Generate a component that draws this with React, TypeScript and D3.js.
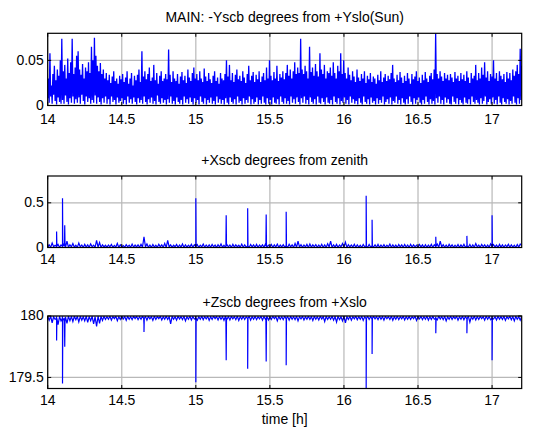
import React from "react";
import * as d3 from "d3";

const T_START = 14;
const T_END = 17.2;
const xTicks = [14, 14.5, 15, 15.5, 16, 16.5, 17];

// Panel 1: -Yscb from +Yslo(Sun), milli-degrees, evenly sampled 14 h .. 17.2 h
const sunAngleMdeg = [
  8,30,3,58,10,22,2,35,12,44,5,28,1,40,9,33,4,50,2,74,
  6,38,2,45,11,30,4,52,1,36,8,48,3,74,10,35,2,42,7,55,
  3,60,9,40,2,34,12,46,5,30,1,42,10,38,4,48,8,36,2,65,
  6,50,3,75,11,55,2,44,9,38,4,47,1,35,8,40,3,30,10,36,
  2,28,7,34,1,25,10,32,4,38,6,27,1,30,9,24,3,33,5,29,
  8,35,2,26,6,31,1,38,10,24,3,30,7,36,2,22,9,33,4,28,
  1,34,8,40,3,26,6,60,2,32,10,38,4,29,1,35,7,42,3,27,
  9,31,2,45,5,28,1,36,11,24,4,33,2,38,8,27,3,30,6,35,
  1,29,7,62,3,34,10,26,2,38,5,30,1,27,9,35,4,24,2,32,
  6,37,1,28,10,33,3,25,7,40,2,31,9,27,4,36,1,42,8,30,
  3,35,6,28,1,38,10,30,4,26,2,41,8,32,1,27,6,36,3,29,
  9,25,2,33,5,38,1,27,10,31,3,24,7,36,2,30,6,28,1,35,
  8,50,3,32,1,45,9,28,4,36,2,26,7,34,1,40,10,29,3,33,
  5,27,1,38,8,31,2,25,6,35,3,44,10,28,1,33,7,37,2,26,
  4,34,9,29,1,38,6,26,2,32,10,36,3,28,1,42,8,30,2,50,
  6,33,1,28,9,37,3,30,2,44,7,27,1,35,10,31,4,38,2,29,
  8,36,2,45,5,33,1,40,10,30,3,38,7,48,2,35,9,42,4,36,
  1,74,8,40,3,35,10,44,2,38,6,30,1,65,9,37,4,42,2,33,
  7,46,1,38,10,32,3,58,2,40,8,35,4,45,1,30,9,38,3,36,
  2,42,6,33,1,48,10,36,4,30,2,44,8,38,1,58,5,35,3,50,
  9,36,2,30,6,42,1,34,10,28,3,38,7,32,2,26,5,40,1,31,
  8,27,3,35,1,30,10,38,4,25,2,33,7,29,1,36,9,26,3,32,
  5,30,1,24,8,34,2,28,6,38,3,26,10,31,1,35,4,27,7,33,
  2,29,9,36,1,45,5,30,3,26,10,34,2,28,6,37,1,31,8,25,
  3,33,1,27,7,36,2,30,10,24,4,35,1,29,8,32,2,38,6,27,
  9,31,3,25,1,34,6,28,2,37,10,30,4,26,1,33,7,36,2,29,
  5,40,1,80,8,35,3,30,10,38,2,32,6,27,1,36,9,30,3,34,
  7,28,2,35,1,31,10,26,4,37,2,30,8,33,1,27,6,36,3,29,
  1,34,9,27,3,38,2,31,7,25,1,36,10,30,4,33,2,45,6,28,
  3,36,1,30,8,42,2,34,5,48,10,31,1,38,4,27,7,35,2,32,
  9,50,2,30,6,36,1,27,10,38,3,33,1,29,8,35,4,26,2,37,
  7,30,1,36,5,28,2,40,10,33,3,38,1,45,8,35,2,63,6,44,
];

// Panel 2: +Xscb from zenith, baseline in milli-degrees (evenly sampled) + spikes in degrees
const zenithBaseMdeg = [
  5,30,2,50,8,25,3,35,1,28,6,40,2,70,4,30,8,45,3,25,
  2,50,6,28,1,35,5,30,3,40,8,26,2,80,4,55,1,30,6,25,
  3,28,8,35,2,24,5,45,1,30,6,22,3,32,8,26,2,38,4,27,
  6,30,2,35,4,120,8,40,3,28,1,33,5,25,2,36,7,30,3,45,
  1,80,6,30,3,25,8,34,2,28,5,40,1,30,4,26,7,35,2,30,
  4,32,1,26,7,38,3,28,5,30,2,35,8,27,1,32,6,40,3,25,
  2,34,6,28,1,36,4,30,8,25,3,38,2,30,5,27,1,33,7,29,
  3,35,1,28,6,30,2,40,4,26,8,34,1,30,5,38,2,27,6,31,
  4,28,2,36,7,30,1,45,3,70,5,32,2,28,6,35,1,40,4,30,
  8,33,2,28,5,36,1,30,3,42,6,70,2,30,4,35,1,28,7,45,
  3,60,1,32,6,28,4,36,2,30,5,25,1,34,8,28,2,33,4,27,
  6,30,2,35,1,28,5,32,3,26,7,38,2,30,4,27,1,34,6,29,
  2,33,5,28,1,36,4,30,8,26,2,34,6,29,1,32,3,27,5,35,
  1,30,4,38,2,70,6,32,3,28,1,35,7,30,2,26,5,34,1,29,
  4,36,2,28,6,33,1,30,3,45,5,27,2,34,8,30,1,28,4,40,
  2,32,6,27,1,35,4,30,3,28,7,36,2,30,5,26,1,33,4,38,20,
];
const zenithSpikeTime = [14.06, 14.1, 14.115, 15.0, 15.205, 15.35, 15.475, 15.61, 16.15, 16.19, 16.62, 16.83, 17.0];
const zenithSpikeDeg = [0.18, 0.55, 0.25, 0.55, 0.36, 0.44, 0.37, 0.4, 0.58, 0.31, 0.12, 0.13, 0.36];

// Panel 3: +Zscb from +Xslo, baseline as milli-degrees below 180 (evenly sampled) + dips in degrees
const xsloBaseMdegBelow = [
  4,35,2,55,6,28,3,70,5,40,2,32,7,60,3,38,5,45,2,30,
  4,48,3,34,6,40,2,52,5,38,3,65,6,85,2,60,4,36,3,28,
  6,26,2,34,5,22,3,38,6,28,2,24,5,35,3,26,6,30,2,22,
  3,30,6,26,2,70,5,34,3,24,6,36,2,28,5,22,3,32,6,26,
  2,28,5,65,3,26,6,34,2,24,5,30,3,40,6,26,2,32,5,24,
  3,34,6,26,2,30,5,24,3,36,6,28,2,22,5,32,3,26,6,35,
  2,26,5,32,3,24,6,30,2,36,5,26,3,28,6,22,2,34,5,26,
  3,30,6,24,2,34,5,26,3,32,6,28,2,22,5,40,3,26,6,30,
  2,24,5,34,3,26,6,30,2,40,5,24,3,32,6,26,2,28,5,36,
  3,26,6,32,2,24,5,45,3,28,6,26,2,34,5,50,3,30,6,40,
  2,55,5,28,3,34,6,24,2,30,5,26,3,36,6,22,2,28,5,32,
  3,24,6,30,2,26,5,34,3,22,6,28,2,35,5,26,3,30,6,24,
  2,32,5,26,3,28,6,22,2,36,5,24,3,30,6,26,2,34,5,28,
  3,26,6,32,2,24,5,30,3,40,6,26,2,28,5,22,3,34,6,26,
  2,30,5,24,3,50,6,26,2,32,5,28,3,22,6,34,2,26,5,30,
  3,24,6,32,2,26,5,28,3,36,6,24,2,30,5,40,3,26,6,34,4,
];
const xsloSpikeTime = [14.06, 14.1, 14.115, 14.65, 15.0, 15.205, 15.35, 15.475, 15.61, 16.15, 16.19, 16.62, 16.83, 17.0];
const xsloSpikeDeg = [179.8, 179.45, 179.75, 179.87, 179.46, 179.64, 179.57, 179.63, 179.6, 179.405, 179.69, 179.86, 179.86, 179.64];

type Pt = [number, number];

function evenSeries(vals: number[], conv: (v: number) => number): Pt[] {
  const n = vals.length;
  return vals.map((v, i) => [T_START + (i * (T_END - T_START)) / (n - 1), conv(v)]);
}

function withSpikes(base: Pt[], times: number[], vals: number[], foot: number): Pt[] {
  const pts: Pt[] = [...base];
  times.forEach((t, i) => {
    pts.push([t - 0.002, foot], [t, vals[i]], [t + 0.002, foot]);
  });
  return pts.sort((a, b) => a[0] - b[0]);
}

const panelSun = evenSeries(sunAngleMdeg, (v) => v / 1000);
const panelZenith = withSpikes(evenSeries(zenithBaseMdeg, (v) => v / 1000), zenithSpikeTime, zenithSpikeDeg, 0.015);
const panelXslo = withSpikes(evenSeries(xsloBaseMdegBelow, (v) => 180 - v / 1000), xsloSpikeTime, xsloSpikeDeg, 179.98);

const LEFT = 47.7;
const RIGHT = 521.7;
const FONT = "'Liberation Sans', Arial, sans-serif";
const FS = 14;

interface PanelSpec {
  title: string;
  top: number;
  bottom: number;
  titleY: number;
  tickY: number;
  yDomain: [number, number];
  yTicks: number[];
  yFmt: (v: number) => string;
  lineW: number;
  data: Pt[];
}

const panels: PanelSpec[] = [
  {
    title: "MAIN: -Yscb degrees from +Yslo(Sun)",
    top: 33.3,
    bottom: 105.5,
    titleY: 22,
    tickY: 123.5,
    yDomain: [0, 0.08],
    yTicks: [0, 0.05],
    yFmt: (v) => (v === 0 ? "0" : String(v)),
    lineW: 1.3,
    data: panelSun,
  },
  {
    title: "+Xscb degrees from zenith",
    top: 176,
    bottom: 247.5,
    titleY: 165,
    tickY: 263.5,
    yDomain: [0, 0.8],
    yTicks: [0, 0.5],
    yFmt: (v) => (v === 0 ? "0" : String(v)),
    lineW: 1.2,
    data: panelZenith,
  },
  {
    title: "+Zscb degrees from +Xslo",
    top: 316,
    bottom: 388.5,
    titleY: 306.5,
    tickY: 404.5,
    yDomain: [179.41, 180],
    yTicks: [179.5, 180],
    yFmt: (v) => String(v),
    lineW: 1.2,
    data: panelXslo,
  },
];

const x = d3.scaleLinear().domain([T_START, T_END]).range([LEFT, RIGHT]);

function Panel({ p, idx }: { p: PanelSpec; idx: number }) {
  const y = d3.scaleLinear().domain(p.yDomain).range([p.bottom, p.top]);
  const line = d3
    .line<Pt>()
    .x((d) => x(d[0]))
    .y((d) => y(d[1]));
  const clipId = `clip${idx}`;
  const tl = 3.5;
  return (
    <g>
      <defs>
        <clipPath id={clipId}>
          <rect x={LEFT} y={p.top} width={RIGHT - LEFT} height={p.bottom - p.top} />
        </clipPath>
      </defs>
      <rect x={LEFT} y={p.top} width={RIGHT - LEFT} height={p.bottom - p.top} fill="#fff" />
      {xTicks.map((t) => (
        <line key={`gx${t}`} x1={x(t)} x2={x(t)} y1={p.top} y2={p.bottom} stroke="#b8b8b8" strokeWidth={1.2} />
      ))}
      {p.yTicks.map((t) => (
        <line key={`gy${t}`} x1={LEFT} x2={RIGHT} y1={y(t)} y2={y(t)} stroke="#b8b8b8" strokeWidth={1.2} />
      ))}
      <path d={line(p.data) || ""} fill="none" stroke="#0000ff" strokeWidth={p.lineW} strokeLinejoin="miter" clipPath={`url(#${clipId})`} />
      {xTicks.map((t) => (
        <g key={`tx${t}`}>
          <line x1={x(t)} x2={x(t)} y1={p.top} y2={p.top + tl} stroke="#000" />
          <line x1={x(t)} x2={x(t)} y1={p.bottom} y2={p.bottom - tl} stroke="#000" />
        </g>
      ))}
      {p.yTicks.map((t) => (
        <g key={`ty${t}`}>
          <line x1={LEFT} x2={LEFT + tl} y1={y(t)} y2={y(t)} stroke="#000" />
          <line x1={RIGHT} x2={RIGHT - tl} y1={y(t)} y2={y(t)} stroke="#000" />
        </g>
      ))}
      <rect x={LEFT} y={p.top} width={RIGHT - LEFT} height={p.bottom - p.top} fill="none" stroke="#000" strokeWidth={1.2} />
      {xTicks.map((t) => (
        <text key={`lx${t}`} x={x(t)} y={p.tickY} textAnchor="middle" fontSize={FS} fontFamily={FONT} fill="#000">
          {String(t)}
        </text>
      ))}
      {p.yTicks.map((t) => (
        <text key={`ly${t}`} x={LEFT - 4} y={y(t)} dy="0.32em" textAnchor="end" fontSize={FS} fontFamily={FONT} fill="#000">
          {p.yFmt(t)}
        </text>
      ))}
      <text x={(LEFT + RIGHT) / 2} y={p.titleY} textAnchor="middle" fontSize={FS} fontFamily={FONT} fill="#000">
        {p.title}
      </text>
    </g>
  );
}

export default function App() {
  return (
    <svg width={540} height={430} style={{ position: "absolute", left: 0, top: 0, background: "#fff" }}>
      <rect x={0} y={0} width={540} height={430} fill="#fff" />
      {panels.map((p, i) => (
        <Panel key={i} p={p} idx={i} />
      ))}
      <text x={(LEFT + RIGHT) / 2} y={424} textAnchor="middle" fontSize={FS} fontFamily={FONT} fill="#000">
        time [h]
      </text>
    </svg>
  );
}
